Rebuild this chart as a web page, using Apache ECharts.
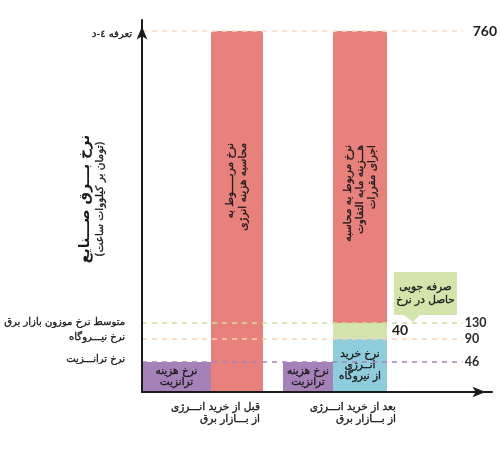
<!DOCTYPE html>
<html>
<head>
<meta charset="utf-8">
<script src="https://cdn.jsdelivr.net/npm/echarts@6/dist/echarts.min.js"></script>
<style>html,body{margin:0;padding:0;background:#fff}#c{width:500px;height:465px}</style>
</head>
<body>
<div id="c"></div>
<script>
// ---------------- data ----------------
const categories = ['قبل از خرید انـــرژی\nاز بـــازار برق', 'بعد از خرید انـــرژی\nاز بـــازار برق'];
const transitRate = [46, 46];        // نرخ هزینه ترانزیت
const energyTariff = [760, 760];     // تعرفه ٤-د
const plantRate = [null, 90];        // نرخ خرید انرژی از نیروگاه
const savings = [null, 40];          // صرفه جویی حاصل در نرخ
const marketRate = [null, 130];      // متوسط نرخ موزون بازار برق
const tickValues = [46, 90, 130, 760];
const tickNames = ['نرخ ترانـــزیت', 'نرخ نیـــروگاه', 'متوسط نرخ موزون بازار برق', 'تعرفه ٤-د'];
const transitText = 'نرخ هزینه\nترانزیت';
const redTexts = ['نرخ مربـــــوط به\nمحاسبه هزینه انرژی', 'نرخ مربوط به محاسبه\nهـــزینه مابه التفاوت\nاجرای مقررات'];
const plantText = 'نرخ خرید\nانــرژی\nاز نیروگاه';
const calloutText = 'صرفه جویی\nحاصل در نرخ';
const axisTitle = 'نرخ بـــرق صـــنایع';
const axisUnit = '\u200F(تومان بر کیلووات ساعت)\u200F';

// ---------------- schematic (broken) value scale ----------------
const scaleStopValues = [0, 46, 90, 130, 760];
const scaleStopUnits = [0, 30, 53.5, 69, 361];
function T(v) {
  const a = scaleStopValues, b = scaleStopUnits;
  for (let i = 1; i < a.length; i++) {
    if (v <= a[i]) return b[i - 1] + (v - a[i - 1]) * (b[i] - b[i - 1]) / (a[i] - a[i - 1]);
  }
  return b[b.length - 1];
}

// ---------------- styles ----------------
const AR = 'DejaVu Sans, sans-serif';
const NUM = 'Lato, "Noto Sans", sans-serif';
const C = { purple: '#a681b8', red: '#e8817b', blue: '#8ecddb', green: '#d3e5ab', axis: '#1a1a1a', text: '#1c1c1c' };
const lineColors = ['#a884bc', '#fcd3b4', '#c8dfa0', '#fddbc4'];
const TOP = 20, BOTTOM = 73, UMAX = 372;
const arText = { fontFamily: AR, color: C.text, textBorderColor: C.text, textBorderWidth: 0.35 };

const chart = echarts.init(document.getElementById('c'));

function findTick(val) {
  let best = 0;
  tickValues.forEach((t, i) => { if (Math.abs(T(t) - val) < Math.abs(T(tickValues[best]) - val)) best = i; });
  return best;
}
function catLabel(width) {
  return {
    interval: 0, margin: 9,
    formatter: v => v.split('\n').map(l => '{a|' + l + '}').join('\n'),
    rich: { a: Object.assign({ width: width, align: 'right', fontSize: 10.5, lineHeight: 12.5 }, arText) }
  };
}
const hidden = { axisLine: { show: false }, axisTick: { show: false }, axisLabel: { show: false }, splitLine: { show: false } };
const yHidden = (g) => Object.assign({ gridIndex: g, type: 'value', min: 0, max: UMAX }, hidden);
const barLabel = (extra) => Object.assign({ show: true, fontSize: 10.5, lineHeight: 11.5 }, arText, extra);

const option = {
  animation: false,
  backgroundColor: '#fff',
  grid: [
    { left: 142, width: 323, top: TOP, bottom: BOTTOM },
    { left: 142, width: 350, top: TOP, bottom: BOTTOM },
    { left: 142, width: 121, top: TOP, bottom: BOTTOM },
    { left: 283, width: 104, top: TOP, bottom: BOTTOM }
  ],
  xAxis: [
    Object.assign({ gridIndex: 0, type: 'value', min: 0, max: 1 }, hidden),
    Object.assign({ gridIndex: 1, type: 'value', min: 0, max: 1, z: 10 }, hidden, {
      axisLine: { show: true, onZero: false, symbol: ['none', 'arrow'], symbolSize: [8, 13], symbolOffset: [0, -6.5],
        lineStyle: { color: C.axis, width: 2 } }
    }),
    { gridIndex: 2, type: 'category', data: [categories[0]], axisLine: { show: false }, axisTick: { show: false }, axisLabel: catLabel(115) },
    { gridIndex: 3, type: 'category', data: [categories[1]], axisLine: { show: false }, axisTick: { show: false }, axisLabel: catLabel(122) }
  ],
  yAxis: [
    {
      gridIndex: 0, type: 'value', min: 0, max: UMAX, position: 'left', z: 10,
      axisLine: { show: true, onZero: false, symbol: ['none', 'arrow'], symbolSize: [8, 13], symbolOffset: [0, -6.5],
        lineStyle: { color: C.axis, width: 2 } },
      axisTick: { show: false }, splitLine: { show: false },
      axisLabel: {
        customValues: tickValues.map(T), margin: 10,
        formatter: v => { const i = findTick(v); return (i === 3 ? '{a|' : (i === 0 ? '{c|' : '{b|')) + tickNames[i] + '}'; },
        rich: {
          a: Object.assign({ fontSize: 10, padding: [6, 0, 0, 0] }, arText),
          b: Object.assign({ fontSize: 10, padding: [0, 7, 2, 0] }, arText),
          c: Object.assign({ fontSize: 10, padding: [0, 7, 5, 0] }, arText)
        }
      }
    },
    {
      gridIndex: 0, type: 'value', min: 0, max: UMAX, position: 'right',
      axisLine: { show: false }, axisTick: { show: false }, splitLine: { show: false },
      axisLabel: {
        customValues: tickValues.map(T), margin: 2,
        formatter: v => { const i = findTick(v); return (i === 3 ? '{a|' : '{b|') + tickValues[i] + '}'; },
        rich: {
          a: { fontSize: 14, fontWeight: 'bold', fontFamily: NUM, color: C.text, padding: [0, 0, 0, 8] },
          b: { fontSize: 12.5, fontWeight: 'bold', fontFamily: NUM, color: '#2a2a2a' }
        }
      }
    },
    yHidden(1), yHidden(2), yHidden(3)
  ],
  series: [
    {
      type: 'line', xAxisIndex: 0, yAxisIndex: 0, data: [], z: 1, silent: true,
      markLine: {
        symbol: ['none', 'none'], silent: true, label: { show: false },
        data: tickValues.map((t, i) => ({ yAxis: T(t), lineStyle: { color: lineColors[i], type: [5, 5], width: 1.5 } }))
      }
    },
    // before
    {
      type: 'bar', name: 'transit', xAxisIndex: 2, yAxisIndex: 3, barWidth: 69, barGap: 0, z: 3,
      itemStyle: { color: C.purple },
      label: barLabel({ position: 'inside', formatter: transitText }),
      data: [T(transitRate[0])]
    },
    {
      type: 'bar', name: 'energy', xAxisIndex: 2, yAxisIndex: 3, barWidth: 52, barGap: 0, z: 3,
      itemStyle: { color: C.red, borderRadius: [3, 3, 0, 0] },
      label: barLabel({ position: ['50%', 112], rotate: 90, align: 'right', verticalAlign: 'middle', formatter: redTexts[0], lineHeight: 12.5 }),
      data: [T(energyTariff[0])]
    },
    // after
    {
      type: 'bar', name: 'transit', xAxisIndex: 3, yAxisIndex: 4, barWidth: 50, barGap: 0, z: 3,
      itemStyle: { color: C.purple },
      label: barLabel({ position: 'inside', formatter: transitText }),
      data: [T(transitRate[1])]
    },
    {
      type: 'bar', name: 'plant', stack: 'after', xAxisIndex: 3, yAxisIndex: 4, barWidth: 54, barGap: 0, z: 3,
      itemStyle: { color: C.blue },
      label: barLabel({ position: 'inside', formatter: plantText, lineHeight: 11 }),
      data: [T(plantRate[1])]
    },
    {
      type: 'bar', name: 'savings', stack: 'after', xAxisIndex: 3, yAxisIndex: 4, barWidth: 54, barGap: 0, z: 3,
      itemStyle: { color: C.green },
      label: { show: true, position: 'right', distance: 5, formatter: String(savings[1]),
        fontSize: 14, fontWeight: 'bold', fontFamily: NUM, color: C.text },
      data: [T(plantRate[1] + savings[1]) - T(plantRate[1])]
    },
    {
      type: 'bar', name: 'energy', stack: 'after', xAxisIndex: 3, yAxisIndex: 4, barWidth: 54, barGap: 0, z: 3,
      itemStyle: { color: C.red, borderRadius: [3, 3, 0, 0] },
      label: barLabel({ position: ['50%', 114], rotate: 90, align: 'right', verticalAlign: 'middle', formatter: redTexts[1], lineHeight: 12 }),
      data: [T(energyTariff[1]) - T(marketRate[1])]
    }
  ]
};
chart.setOption(option);

// annotations: axis title and callout anchored to the 130 level
const tipY = chart.convertToPixel({ yAxisIndex: 0 }, T(marketRate[1]));
const tipX = 413;
chart.setOption({
  graphic: [
    {
      type: 'text', x: 92, y: 199, rotation: Math.PI / 2,
      style: {
        text: '{t|' + axisTitle + '}\n{u|' + axisUnit + '}',
        align: 'center', verticalAlign: 'middle',
        rich: {
          t: { fontSize: 14, fontWeight: 'bold', fontFamily: AR, fill: C.text, lineHeight: 16 },
          u: { fontSize: 10.5, fontFamily: AR, fill: C.text, lineHeight: 14, stroke: C.text, lineWidth: 0.35 }
        }
      }
    },
    {
      type: 'group', z: 20,
      children: [
        { type: 'rect', shape: { x: tipX - 19, y: tipY - 51, width: 63, height: 43 }, style: { fill: C.green } },
        { type: 'polygon', shape: { points: [[tipX - 10, tipY - 8.5], [tipX + 7, tipY - 8.5], [tipX, tipY - 1]] }, style: { fill: C.green } },
        { type: 'text', x: tipX + 12.5, y: tipY - 29.5,
          style: { text: calloutText, align: 'center', verticalAlign: 'middle', fontSize: 10.5, lineHeight: 13,
            fontFamily: AR, fill: C.text, stroke: C.text, lineWidth: 0.35 } }
      ]
    }
  ]
});
</script>
</body>
</html>
